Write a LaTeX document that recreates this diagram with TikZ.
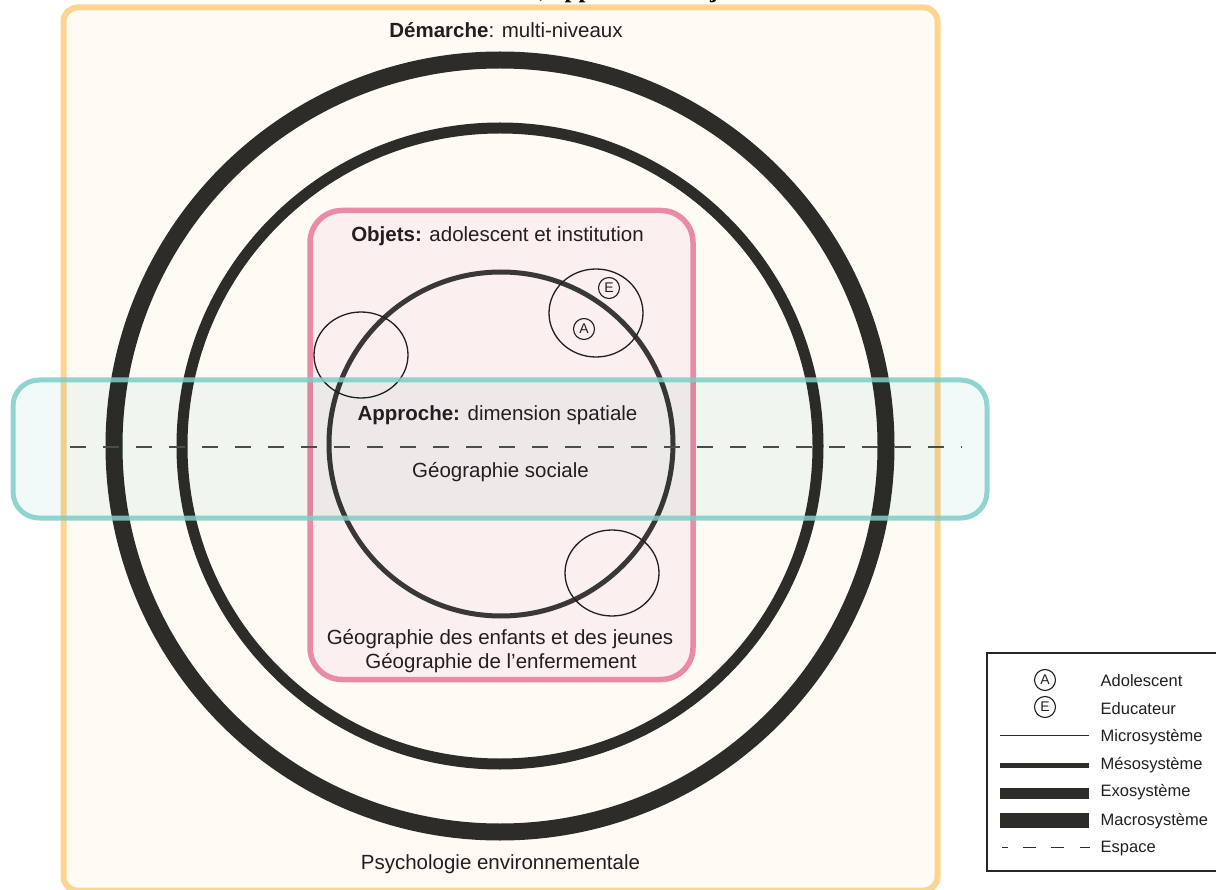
\documentclass[tikz,border=0pt]{standalone}
\usepackage{fontspec}
\setmainfont{Liberation Sans}
\newfontfamily\titlefont{Liberation Serif}
\definecolor{orangeB}{HTML}{FCD593}
\definecolor{orangeF}{HTML}{FEFBF4}
\definecolor{pinkB}{HTML}{E98AA6}
\definecolor{pinkF}{HTML}{FBEFEF}
\definecolor{tealB}{HTML}{7FCDC7}
\definecolor{tealF}{HTML}{F1F9F9}
\definecolor{ringC}{HTML}{2D2C28}
\definecolor{innerC}{HTML}{3A3836}
\definecolor{txtC}{HTML}{231F20}
\tikzset{
  ring/.style={draw=ringC},
  micro/.style={draw=txtC, line width=1.3pt},
  lbl/.style={anchor=base, inner sep=0pt, text=txtC, font=\fontsize{20.5}{24}\selectfont},
  leglbl/.style={anchor=base west, inner sep=0pt, text=txtC, font=\fontsize{16.5}{20}\selectfont},
  person/.style={circle, draw=txtC, line width=1.1pt, minimum size=21pt, inner sep=0pt, text=txtC, font=\fontsize{14}{16}\selectfont},
  legline/.style={draw=ringC},
  espace/.style={draw=black!70, line width=1.6pt, dash pattern=on 16pt off 17pt},
}
\begin{document}
\begin{tikzpicture}[x=1pt,y=-1pt]
\useasboundingbox (0,0) rectangle (1216,890);
% clipped title
\begin{scope}
\clip (0,0) rectangle (1216,890);
\node[anchor=base east, inner sep=0pt, font=\titlefont\bfseries\fontsize{25}{30}\selectfont] (t1) at (546,-2.5) {Démarche,};
\node[anchor=base west, inner sep=0pt, font=\titlefont\bfseries\fontsize{25}{30}\selectfont] (t2) at (552,-2.5) {approche et objets};
\end{scope}
% orange frame
\draw[draw=orangeB, fill=orangeF, line width=6pt, rounded corners=14pt] (63.5,7.5) rectangle (937.5,890.5);
% big rings
\draw[ring, line width=17pt] (500,446) circle[radius=386pt];
\draw[ring, line width=11pt] (500,446) circle[radius=318pt];
% pink box
\draw[draw=pinkB, fill=pinkF, line width=5.5pt, rounded corners=32pt] (310,210.5) rectangle (693,679.5);
% inner circle
\draw[draw=innerC, line width=5pt] (501,444) circle[radius=172pt];
% microsystems
\draw[micro] (361,355) ellipse[x radius=47pt, y radius=43pt];
\draw[micro] (596,313) ellipse[x radius=47pt, y radius=44pt];
\draw[micro] (612,573) ellipse[x radius=47pt, y radius=43pt];
\node[person] (pe) at (609,288) {E};
\node[person] (pa) at (584,329) {A};
% teal band (tint multiplied over what lies below)
\begin{scope}[blend mode=multiply]
\fill[tealF, rounded corners=26pt] (13,380) rectangle (987,518);
\end{scope}
\draw[draw=tealB, draw opacity=0.85, line width=5pt, rounded corners=26pt] (13,380) rectangle (987,518);
% dashed space line
\coordinate (dl) at (70,447);
\coordinate (dr) at (962,447);
\draw[espace] (dl) -- (dr);
% texts
\node[lbl] (demarche) at (506,37.5) {\textbf{Démarche}: multi-niveaux};
\node[lbl] (objets) at (497.5,242) {\textbf{Objets:} adolescent et institution};
\node[lbl] (approche) at (497.5,420.5) {\textbf{Approche:} dimension spatiale};
\node[lbl] (sociale) at (500.5,478) {Géographie sociale};
\node[lbl] (enfants) at (500,644) {Géographie des enfants et des jeunes};
\node[lbl] (enferm) at (501,668) {Géographie de l’enfermement};
\node[lbl] (psycho) at (500.5,869) {Psychologie environnementale};
% legend
\coordinate (b1) at (1216,653);
\coordinate (b2) at (987,653);
\coordinate (b3) at (987,871);
\coordinate (b4) at (1216,871);
\draw[draw=black!85, line width=1.5pt] (b1) -- (b2) -- (b3) -- (b4);
\node[person] (la) at (1045,680) {A};
\node[person] (le) at (1045,707) {E};
\node[leglbl] (ladol) at (1100.5,686.7) {Adolescent};
\node[leglbl] (ledu) at (1100.5,714) {Educateur};
\node[leglbl] (lmicro) at (1100.5,741.7) {Microsystème};
\node[leglbl] (lmeso) at (1100.5,769) {Mésosystème};
\node[leglbl] (lexo) at (1100.5,796.7) {Exosystème};
\node[leglbl] (lmacro) at (1100.5,825) {Macrosystème};
\node[leglbl] (lesp) at (1100.5,852.5) {Espace};
\coordinate (m1) at (1000,735.7); \coordinate (m2) at (1089,735.7);
\coordinate (s1) at (1000,765); \coordinate (s2) at (1089,765);
\coordinate (x1) at (1000,793); \coordinate (x2) at (1089,793);
\coordinate (c1) at (1000,820.5); \coordinate (c2) at (1089,820.5);
\coordinate (e1) at (1002,847.5); \coordinate (e2) at (1096,847.5);
\draw[legline, line width=1.3pt] (m1) -- (m2);
\draw[legline, line width=5pt] (s1) -- (s2);
\draw[legline, line width=11pt] (x1) -- (x2);
\draw[legline, line width=15pt] (c1) -- (c2);
\draw[draw=ringC, line width=1.3pt, dash pattern=on 6pt off 15pt on 13pt off 15pt on 13pt off 16pt on 10pt off 20pt] (e1) -- (e2);
\end{tikzpicture}
\end{document}
